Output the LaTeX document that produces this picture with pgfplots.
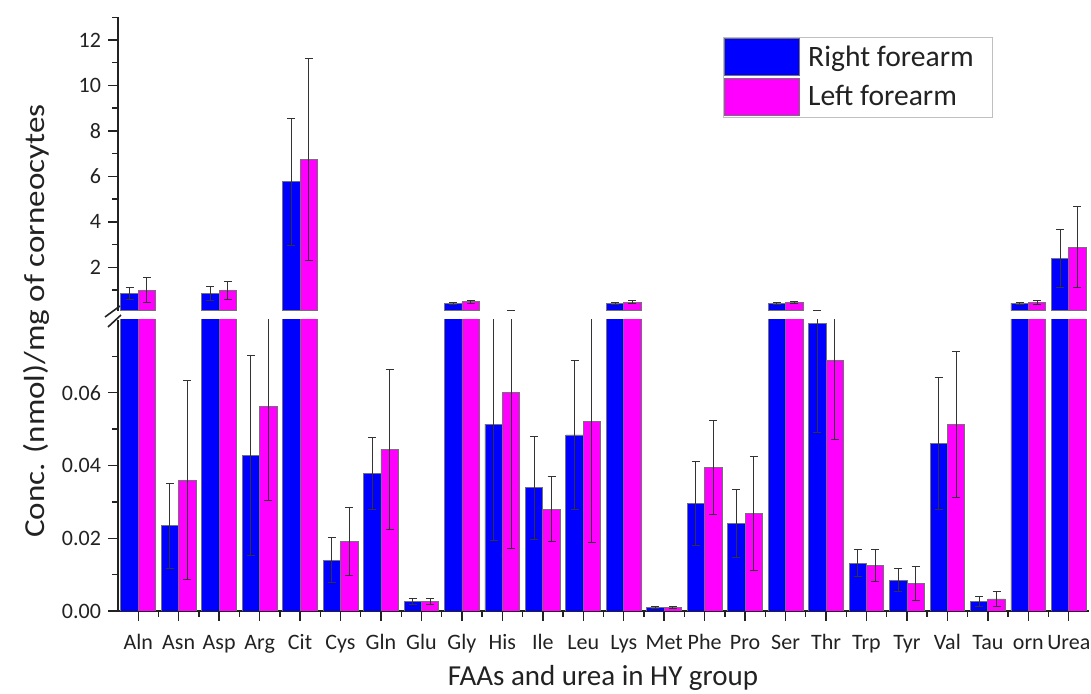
\documentclass[border=0pt]{standalone}
\usepackage{fontspec}
\setmainfont{Carlito}
\usepackage{pgfplots}
\usepackage{pgfplotstable}
\pgfplotsset{compat=1.18}
\definecolor{txt}{HTML}{222222}
\definecolor{errc}{HTML}{333333}
\definecolor{bblue}{HTML}{0000FF}
\definecolor{bmag}{HTML}{FF00FF}

\pgfplotstableread{
x  b      be     m      me
1  0.84   0.26   0.99   0.56
2  0.0234 0.0117 0.0360 0.0273
3  0.84   0.32   0.99   0.39
4  0.0427 0.0275 0.0562 0.0257
5  5.76   2.79   6.74   4.45
6  0.0140 0.0062 0.0191 0.0094
7  0.0379 0.0099 0.0445 0.0220
8  0.0026 0.0008 0.0026 0.0008
9  0.42   0.05   0.48   0.06
10 0.0514 0.032  0.0601 0.043
11 0.0339 0.0142 0.0280 0.0090
12 0.0484 0.0205 0.0521 0.0333
13 0.40   0.04   0.46   0.07
14 0.0010 0.0003 0.0010 0.0003
15 0.0296 0.0115 0.0395 0.0130
16 0.0241 0.0094 0.0267 0.0157
17 0.40   0.04   0.45   0.06
18 0.0790 0.0300 0.0688 0.0216
19 0.0131 0.0037 0.0125 0.0045
20 0.0085 0.0032 0.0076 0.0046
21 0.0461 0.0182 0.0512 0.0201
22 0.0026 0.0015 0.0033 0.0020
23 0.42   0.05   0.45   0.10
24 2.38   1.28   2.89   1.77
}\data

\pgfplotsset{
  common/.style={
    scale only axis, anchor=south west,
    width=485.5pt,
    xmin=0.5, xmax=24.5,
    clip=true,
    axis line style={line width=1pt, color=txt},
    tick style={line width=0.7pt, color=txt},
    tick align=outside,
    major tick length=5pt, minor tick length=3pt,
    ticklabel style={font=\fontsize{11}{13}\selectfont, color=txt},
    /pgf/number format/assume math mode=true,
    scaled y ticks=false,
  },
  bluebar/.style={ybar, bar width=0.43, bar shift=-0.215, fill=bblue, draw=black!55, line width=0.4pt},
  magbar/.style={ybar, bar width=0.43, bar shift=0.215, fill=bmag, draw=black!55, line width=0.4pt},
  errs/.style={draw=none, mark=none,
    error bars/y dir=both, error bars/y explicit,
    error bars/error bar style={line width=0.5pt, color=errc, solid},
    error bars/error mark=-,
    error bars/error mark options={rotate=90, line width=0.5pt, color=errc, mark size=2pt}},
}

\begin{document}
\begin{tikzpicture}
\path[use as bounding box] (0pt,0pt) rectangle (545.5pt,347pt);

% lower axis
\begin{axis}[common,
  at={(59pt,41.5pt)}, height=145.5pt,
  ymin=0, ymax=0.08,
  axis x line*=bottom, axis y line*=left,
  xtick={1,...,24},
  xticklabels={Aln,Asn,Asp,Arg,Cit,Cys,Gln,Glu,Gly,His,Ile,Leu,Lys,Met,Phe,Pro,Ser,Thr,Trp,Tyr,Val,Tau,orn,Urea},
  minor xtick={1.5,2.5,...,23.5},
  xticklabel style={text height=1.6ex, text depth=0.4ex, yshift=-3pt},
  ytick={0,0.02,0.04,0.06},
  minor ytick={0.01,0.03,0.05,0.07},
  yticklabel style={/pgf/number format/fixed, /pgf/number format/fixed zerofill, /pgf/number format/precision=2},
]
\addplot[bluebar, restrict y to domain*=0:0.1] table[x=x, y=b] {\data};
\addplot[magbar, restrict y to domain*=0:0.1] table[x=x, y=m] {\data};
\addplot[restrict y to domain=0:0.1, errs] table[x expr=\thisrow{x}-0.215, y=b, y error=be] {\data};
\addplot[restrict y to domain=0:0.1, errs] table[x expr=\thisrow{x}+0.215, y=m, y error=me] {\data};
\end{axis}

% upper axis
\begin{axis}[common,
  at={(59pt,191.7pt)}, height=146.65pt,
  ymin=0.095, ymax=13,
  axis y line*=left, hide x axis,
  ytick={2,4,...,12},
  minor ytick={1,3,...,13},
  legend style={at={(0.623,0.933)}, anchor=north west, draw=gray!50, line width=0.5pt,
    inner sep=0.5pt, row sep=1pt, column sep=2.5pt,
    font=\fontsize{14.8}{17}\selectfont, text=txt,
    nodes={inner sep=1.5pt, anchor=west}},
  legend cell align=left,
  legend image code/.code={\draw[#1] (0pt,-9.25pt) rectangle (37.5pt,9.25pt);},
]
\addplot[bluebar, restrict y to domain=0.095:100] table[x=x, y=b] {\data};
\addlegendentry{\makebox[90pt][l]{Right forearm}}
\addplot[magbar, restrict y to domain=0.095:100] table[x=x, y=m] {\data};
\addlegendentry{Left forearm}
\addplot[forget plot, restrict expr to domain={\thisrow{b}+\thisrow{be}}{0.1:100}, errs] table[x expr=\thisrow{x}-0.215, y=b, y error=be] {\data};
\addplot[forget plot, restrict expr to domain={\thisrow{m}+\thisrow{me}}{0.1:100}, errs] table[x expr=\thisrow{x}+0.215, y=m, y error=me] {\data};
\end{axis}

% axis break marks
\draw[line width=0.8pt, color=txt] (52.5pt,188.5pt) -- (60pt,194pt);
\draw[line width=0.8pt, color=txt] (54pt,183.5pt) -- (60.5pt,189.5pt);

% axis labels
\node[rotate=90, font=\fontsize{14.5}{16}\selectfont, text=txt] at (18pt,186.5pt) {\scalebox{1.14}[1]{Conc. (nmol)/mg of corneocytes}};
\node[font=\fontsize{14.5}{16}\selectfont, text=txt] at (301.5pt,8pt) {FAAs and urea in HY group};
\end{tikzpicture}
\end{document}
